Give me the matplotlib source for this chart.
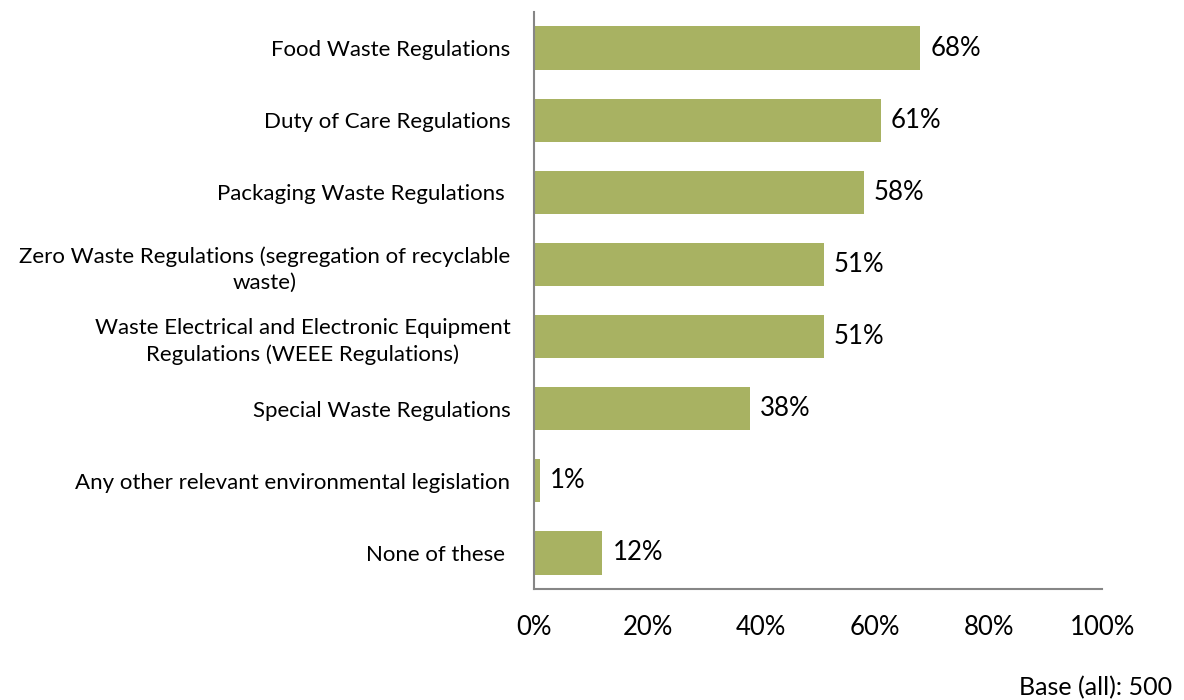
import matplotlib
matplotlib.use("Agg")
import matplotlib.pyplot as plt
from matplotlib.ticker import FuncFormatter

plt.rcParams['font.family'] = ['Lato', 'DejaVu Sans']

categories = [
    "Food Waste Regulations",
    "Duty of Care Regulations",
    "Packaging Waste Regulations ",
    "Zero Waste Regulations (segregation of recyclable\nwaste)",
    "Waste Electrical and Electronic Equipment\nRegulations (WEEE Regulations)",
    "Special Waste Regulations",
    "Any other relevant environmental legislation",
    "None of these ",
]
values = [68, 61, 58, 51, 51, 38, 1, 12]
xticks = [0, 20, 40, 60, 80, 100]

bar_color = "#A8B262"
spine_color = "#868686"
cat_fs = 16
num_fs = 18.5

fig = plt.figure(figsize=(11.84, 7.0), dpi=100)
ax = fig.add_axes([0.451, 0.1586, 0.48, 0.8243])

ypos = list(range(len(categories)))
bars = ax.barh(ypos, values, height=0.6, color=bar_color)

for b, v in zip(bars, values):
    ax.text(b.get_width() + 1.8, b.get_y() + b.get_height() / 2, f"{v}%",
            va="center", ha="left", fontsize=num_fs, color="black")

ax.set_xlim(0, 100)
ax.set_ylim(len(categories) - 0.5, -0.5)
ax.set_xticks(xticks)
ax.xaxis.set_major_formatter(FuncFormatter(lambda x, p: f"{x:.0f}%"))
ax.set_yticks(ypos)
ax.set_yticklabels(categories, fontsize=cat_fs, multialignment="center", linespacing=1.4)
ax.tick_params(axis="x", length=0, pad=19, labelsize=num_fs)
ax.tick_params(axis="y", length=0, pad=17)

for s in ["top", "right"]:
    ax.spines[s].set_visible(False)
for s in ["left", "bottom"]:
    ax.spines[s].set_color(spine_color)
    ax.spines[s].set_linewidth(1.5)

fig.text(1172 / 1184, 1 - 688 / 700, "Base (all): 500", ha="right", va="center",
         fontsize=18)

fig.savefig("out.png", dpi=100)
